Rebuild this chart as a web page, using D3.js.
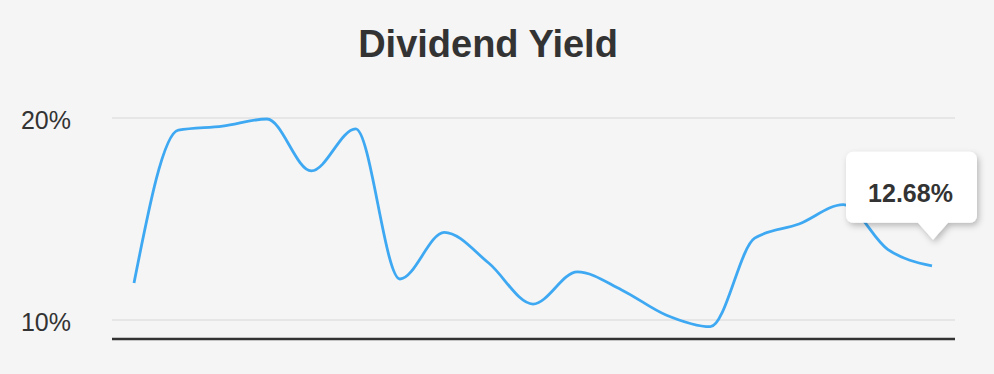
<!DOCTYPE html>
<html>
<head>
<meta charset="utf-8">
<title>Dividend Yield</title>
<script src="https://d3js.org/d3.v7.min.js"></script>
<style>
  body { margin: 0; background: #f5f5f5; }
  svg { display: block; font-family: "Liberation Sans", Arial, Helvetica, sans-serif; }
</style>
</head>
<body>
<svg width="994" height="374"></svg>
<script>
// values (percent)
const yields = [11.83, 19.4, 19.6, 19.95, 17.38, 19.46, 12.03, 14.34, 12.82, 10.79,
                12.38, 11.49, 10.25, 9.67, 14.05, 14.75, 15.71, 13.5, 12.68];
const tickValues = [10, 20];
const tickLabels = ["10%", "20%"];
const tipLabel = "12.68%";

const svg = d3.select("svg");

svg.append("rect").attr("width", 994).attr("height", 374).attr("fill", "#f5f5f5");

const x = d3.scaleLinear().domain([0, yields.length - 1]).range([134, 932]);
const y = d3.scaleLinear().domain([10, 20]).range([320, 118]);
const floor = 9.06;

// title
svg.append("text")
  .attr("x", 488)
  .attr("y", 57)
  .attr("text-anchor", "middle")
  .attr("fill", "#333")
  .style("font-size", "38px")
  .style("font-weight", "bold")
  .text("Dividend Yield");

// gridlines
svg.append("g")
  .selectAll("line")
  .data(tickValues)
  .join("line")
  .attr("x1", 112).attr("x2", 955)
  .attr("y1", d => y(d)).attr("y2", d => y(d))
  .attr("stroke", "#e6e6e6")
  .attr("stroke-width", 2);

// tick labels
svg.append("g")
  .selectAll("text")
  .data(tickValues)
  .join("text")
  .attr("x", 71)
  .attr("y", d => y(d) + 11)
  .attr("text-anchor", "end")
  .attr("fill", "#333")
  .style("font-size", "25px")
  .text((d, i) => tickLabels[i]);

// baseline
svg.append("line")
  .attr("x1", 112).attr("x2", 955)
  .attr("y1", y(floor)).attr("y2", y(floor))
  .attr("stroke", "#333")
  .attr("stroke-width", 2.5);

// line
const line = d3.line()
  .x((d, i) => x(i))
  .y(d => y(d))
  .curve(d3.curveMonotoneX);

svg.append("path")
  .datum(yields)
  .attr("fill", "none")
  .attr("stroke", "#3ea9f2")
  .attr("stroke-width", 2.8)
  .attr("d", line);

// tooltip on last point
const defs = svg.append("defs");
const f = defs.append("filter").attr("id", "shadow")
  .attr("x", "-20%").attr("y", "-20%").attr("width", "150%").attr("height", "160%");
f.append("feDropShadow")
  .attr("dx", 2).attr("dy", 3).attr("stdDeviation", 3)
  .attr("flood-color", "#000").attr("flood-opacity", 0.25);

const last = yields.length - 1;
const tipX = x(last) + 1, tipY = y(yields[last]) - 26;
const bw = 131, bh = 71, r = 7;
const bx = tipX - 87, by = tipY - 17 - bh;
const p = d3.path();
p.moveTo(bx + r, by);
p.lineTo(bx + bw - r, by);
p.arcTo(bx + bw, by, bx + bw, by + r, r);
p.lineTo(bx + bw, by + bh - r);
p.arcTo(bx + bw, by + bh, bx + bw - r, by + bh, r);
p.lineTo(tipX + 15, by + bh);
p.lineTo(tipX, tipY);
p.lineTo(tipX - 15, by + bh);
p.lineTo(bx + r, by + bh);
p.arcTo(bx, by + bh, bx, by + bh - r, r);
p.lineTo(bx, by + r);
p.arcTo(bx, by, bx + r, by, r);
p.closePath();

svg.append("path")
  .attr("d", p.toString())
  .attr("fill", "#fff")
  .attr("filter", "url(#shadow)");

svg.append("text")
  .attr("x", bx + bw / 2 - 1)
  .attr("y", by + 50)
  .attr("text-anchor", "middle")
  .attr("fill", "#333")
  .style("font-size", "25px")
  .style("font-weight", "bold")
  .text(tipLabel);
</script>
</body>
</html>
